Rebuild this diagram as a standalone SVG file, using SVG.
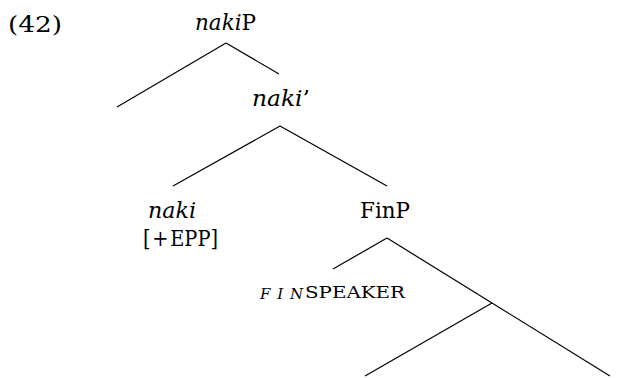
<svg xmlns="http://www.w3.org/2000/svg" width="617" height="378" viewBox="0 0 617 378">
<style>
  text { font-family: "DejaVu Serif", "Liberation Serif", serif; font-size: 23px; fill: #000000; }
  .it { font-style: italic; }
  .sm { font-size: 15px; font-style: italic; }
  .sp { font-size: 17px; }
  .edge { stroke: #000000; stroke-width: 1.2; fill: none; }
</style>
<rect width="617" height="378" fill="#ffffff"/>
<g id="label-42"><text x="8" y="32" textLength="54" lengthAdjust="spacingAndGlyphs">(42)</text></g>
<g id="node-nakiP"><text x="195" y="30" textLength="61" lengthAdjust="spacingAndGlyphs"><tspan class="it">naki</tspan>P</text></g>
<g id="node-nakibar"><text x="252" y="106" textLength="58" lengthAdjust="spacingAndGlyphs"><tspan class="it">naki</tspan>’</text></g>
<g id="node-naki"><text x="148" y="218" class="it" textLength="48" lengthAdjust="spacingAndGlyphs">naki</text><text x="143" y="246" textLength="75" lengthAdjust="spacingAndGlyphs">[<tspan dx="2">+</tspan><tspan dx="2">EPP]</tspan></text></g>
<g id="node-FinP"><text x="360" y="218" textLength="50" lengthAdjust="spacingAndGlyphs">FinP</text></g>
<g id="node-finspeaker"><text x="260" y="299" class="sm" textLength="43" lengthAdjust="spacing">FIN</text><text x="305" y="298" class="sp" textLength="100" lengthAdjust="spacingAndGlyphs">SPEAKER</text></g>
<g id="connectors">
  <line class="edge" x1="226" y1="43" x2="117" y2="107"/>
  <line class="edge" x1="226" y1="43" x2="279" y2="74"/>
  <line class="edge" x1="280" y1="126" x2="173" y2="186"/>
  <line class="edge" x1="280" y1="126" x2="387" y2="186"/>
  <line class="edge" x1="387" y1="238" x2="333" y2="269"/>
  <line class="edge" x1="387" y1="238" x2="492" y2="303"/>
  <line class="edge" x1="492" y1="303" x2="365" y2="376"/>
  <line class="edge" x1="492" y1="303" x2="610" y2="376"/>
</g>
</svg>
